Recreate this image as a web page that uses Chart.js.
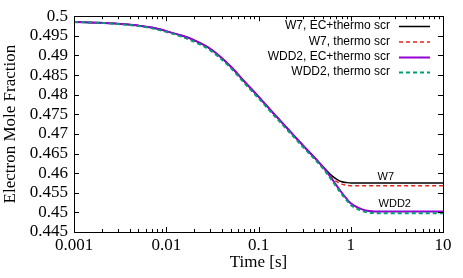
<!DOCTYPE html>
<html>
<head>
<meta charset="utf-8">
<script src="https://cdn.jsdelivr.net/npm/chart.js@4.4.1/dist/chart.umd.min.js"></script>
<style>
html,body{margin:0;padding:0;background:#fff;}
#wrap{width:463px;height:278px;position:relative;}
</style>
</head>
<body>
<div id="wrap"><canvas id="c" width="463" height="278"></canvas></div>
<script>
// ---- data ----
const times = [0.001,0.002,0.003,0.005,0.007,0.01,0.015,0.02,0.03,0.05,0.07,0.1,0.15,0.2,0.3,0.4,0.5,0.6,0.7,0.8,0.9,1,1.2,1.5,2,3,5,10];
const w7EC      = [0.4985,0.4983,0.4981,0.4976,0.4971,0.4962,0.4950,0.4939,0.4917,0.4872,0.4834,0.4795,0.4749,0.4717,0.4672,0.4641,0.4616,0.4597,0.4585,0.4578,0.4576,0.4575,0.4575,0.4575,0.4575,0.4575,0.4575,0.4575];
const w7Thermo  = [0.4985,0.4983,0.4981,0.4975,0.4970,0.4961,0.4948,0.4937,0.4915,0.4870,0.4832,0.4793,0.4747,0.4715,0.4670,0.4639,0.4613,0.4592,0.4579,0.4572,0.4569,0.4568,0.4568,0.4568,0.4568,0.4568,0.4568,0.4568];
const wdd2EC    = [0.4985,0.4983,0.4981,0.4976,0.4971,0.4962,0.4950,0.4939,0.4917,0.4872,0.4834,0.4795,0.4749,0.4717,0.4672,0.4641,0.4616,0.4591,0.4569,0.4550,0.4535,0.4523,0.4512,0.4504,0.4502,0.4502,0.4502,0.4502];
const wdd2Thermo= [0.4985,0.4983,0.4980,0.4975,0.4969,0.4960,0.4947,0.4935,0.4913,0.4868,0.4830,0.4791,0.4745,0.4713,0.4668,0.4637,0.4612,0.4587,0.4565,0.4546,0.4531,0.4519,0.4508,0.4500,0.4498,0.4498,0.4498,0.4498];
const seriesNames = ['W7, EC+thermo scr','W7, thermo scr','WDD2, EC+thermo scr','WDD2, thermo scr'];
const yTickValues = [0.445,0.45,0.455,0.46,0.465,0.47,0.475,0.48,0.485,0.49,0.495,0.5];
const yTickLabels = ['0.445','0.45','0.455','0.46','0.465','0.47','0.475','0.48','0.485','0.49','0.495','0.5'];
const xTickValues = [0.001,0.01,0.1,1,10];
const xTickLabels = ['0.001','0.01','0.1','1','10'];
const curveLabels = ['W7','WDD2'];
const curveLabelPos = [[2.4,0.4589],[3.0,0.4521]];

// ---- styles ----
const styles = [
  {color:'#000000', width:1.5, dash:[]},
  {color:'#e8221a', width:1.5, dash:[4,3]},
  {color:'#9400d3', width:2, dash:[]},
  {color:'#009e73', width:2, dash:[4,3]}
];
const seriesData = [w7EC, w7Thermo, wdd2EC, wdd2Thermo];

const datasets = seriesData.map((vals,i)=>({
  label: seriesNames[i],
  data: times.map((t,j)=>({x:t, y:vals[j]})),
  borderColor: styles[i].color,
  backgroundColor: styles[i].color,
  borderWidth: styles[i].width,
  borderDash: styles[i].dash,
  pointRadius: 0,
  fill: false,
  cubicInterpolationMode: 'monotone',
  order: 4 - i
}));

const serif = "'Liberation Serif', 'DejaVu Serif', serif";
const sans = "'Liberation Sans', Arial, sans-serif";

const decor = {
  id: 'decor',
  afterDatasetsDraw(chart){
    const {ctx, chartArea:{left,right,top,bottom}, scales:{x,y}} = chart;
    ctx.save();
    ctx.strokeStyle = '#000';
    ctx.lineWidth = 1;
    ctx.setLineDash([]);
    const line=(x1,y1,x2,y2)=>{ctx.beginPath();ctx.moveTo(x1,y1);ctx.lineTo(x2,y2);ctx.stroke();};
    yTickValues.forEach(v=>{
      const py = Math.round(y.getPixelForValue(v))+0.5;
      line(left,py,left+5,py);
      line(right,py,right-5,py);
    });
    for(let d=0; d<xTickValues.length; d++){
      const base = xTickValues[d];
      const px = Math.round(x.getPixelForValue(base))+0.5;
      line(px,bottom,px,bottom-5);
      line(px,top,px,top+5);
      if(d<xTickValues.length-1){
        for(let m=2;m<=9;m++){
          const mx = Math.round(x.getPixelForValue(base*m))+0.5;
          line(mx,bottom,mx,bottom-3);
          line(mx,top,mx,top+3);
        }
      }
    }
    ctx.strokeRect(Math.round(left)+0.5, Math.round(top)+0.5, Math.round(right-left), Math.round(bottom-top));
    // curve labels
    ctx.fillStyle='#000';
    ctx.font = "11px " + sans;
    ctx.textAlign='center';
    ctx.textBaseline='middle';
    curveLabels.forEach((t,i)=>{
      ctx.fillText(t, x.getPixelForValue(curveLabelPos[i][0]), y.getPixelForValue(curveLabelPos[i][1]));
    });
    // legend
    ctx.font = "12px " + sans;
    ctx.textAlign='right';
    const rows=[26,41.5,57,72];
    seriesNames.forEach((n,i)=>{
      ctx.fillStyle='#000';
      ctx.fillText(n, 390, rows[i]);
      ctx.strokeStyle=styles[i].color;
      ctx.lineWidth=styles[i].width;
      ctx.setLineDash(styles[i].dash);
      line(399, rows[i]+0.5, 430, rows[i]+0.5);
    });
    ctx.restore();
  }
};

new Chart(document.getElementById('c'), {
  type: 'line',
  data: { datasets },
  plugins: [decor],
  options: {
    responsive: false,
    animation: false,
    devicePixelRatio: 1,
    layout: { padding: { left: 0, right: 20, top: 14, bottom: 0 } },
    plugins: { legend: { display: false }, tooltip: { enabled: false } },
    scales: {
      x: {
        type: 'logarithmic',
        min: 0.001, max: 10,
        grid: { display: false, drawTicks: false },
        border: { display: false },
        afterBuildTicks: s => { s.ticks = xTickValues.map(v=>({value:v})); },
        afterFit: s => { s.height = 46; },
        ticks: {
          color: '#000', padding: 3, maxRotation: 0, autoSkip: false,
          font: { family: serif, size: 17 },
          callback: (v) => { const k = xTickValues.indexOf(v); return k>=0 ? xTickLabels[k] : ''; }
        },
        title: { display: true, text: 'Time [s]', color:'#000', font: { family: serif, size: 17 }, padding: { top: 0, bottom: 5 } }
      },
      y: {
        type: 'linear',
        min: 0.445, max: 0.5,
        grid: { display: false, drawTicks: false },
        border: { display: false },
        afterBuildTicks: s => { s.ticks = yTickValues.map(v=>({value:v})); },
        afterFit: s => { s.width = 74; },
        ticks: {
          color: '#000', padding: 6, autoSkip: false,
          font: { family: serif, size: 17 },
          callback: (v, idx) => yTickLabels[idx]
        },
        title: { display: true, text: 'Electron Mole Fraction', color:'#000', font: { family: serif, size: 17 }, padding: { top: 0, bottom: 0 } }
      }
    }
  }
});
</script>
</body>
</html>
